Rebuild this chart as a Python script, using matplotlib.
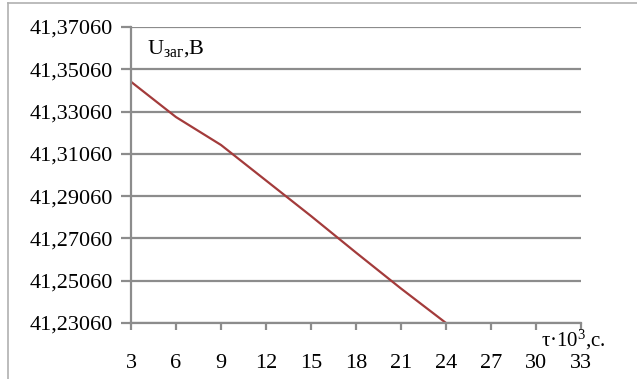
import matplotlib
matplotlib.use("Agg")
import matplotlib.pyplot as plt
from matplotlib.lines import Line2D

plt.rcParams['font.family'] = ['Liberation Serif', 'DejaVu Serif']
plt.rcParams['mathtext.fontset'] = 'custom'
plt.rcParams['mathtext.rm'] = 'Liberation Serif'

# data
time_k = [3, 6, 9, 12, 15, 18, 21, 24]
voltage = [41.3447, 41.3280, 41.3148, 41.2980, 41.2812, 41.2639, 41.2469, 41.2306]
x_ticks = [3, 6, 9, 12, 15, 18, 21, 24, 27, 30, 33]
y_ticks = [41.2306, 41.2506, 41.2706, 41.2906, 41.3106, 41.3306, 41.3506, 41.3706]
y_label = r'$\mathregular{U_{заг}}$,B'
x_label = r'τ·$\mathregular{10^{3}}$,с.'

grid_c = '#8c8c8c'
fig = plt.figure(figsize=(6.37, 3.79), dpi=100)
ax = fig.add_axes([131/637, 1-323/379, (581-131)/637, (323-27)/379])

ax.plot(time_k, voltage, color='#A33B3B', lw=1.6)
ax.set_xlim(x_ticks[0], x_ticks[-1])
ax.set_ylim(y_ticks[0], y_ticks[-1])
ax.set_xticks(x_ticks)
ax.set_yticks(y_ticks)
ax.set_xticklabels([str(v) for v in x_ticks])
ax.set_yticklabels([f"{v:.5f}".replace('.', ',') for v in y_ticks])
ax.grid(axis='y', color=grid_c, lw=1.6)
ax.set_axisbelow(True)
for s in ['top', 'right']:
    ax.spines[s].set_visible(False)
for s in ['left', 'bottom']:
    ax.spines[s].set_color(grid_c)
    ax.spines[s].set_linewidth(1.6)
ax.tick_params(axis='y', length=7, width=1.6, color=grid_c, labelsize=16, pad=6, direction='out')
ax.tick_params(axis='x', length=5, width=1.6, color=grid_c, labelsize=16, pad=17, direction='out')

fig.text(147/637, 1-54/379, y_label, fontsize=16, va='baseline', ha='left')
fig.text(541/637, 1-346/379, x_label, fontsize=15, va='baseline', ha='left')

# outer chart border
fig.add_artist(Line2D([8/637, 8/637], [0, 1-3/379], color='#b0b0b0', lw=1.2, transform=fig.transFigure))
fig.add_artist(Line2D([8/637, 1], [1-3/379, 1-3/379], color='#b0b0b0', lw=1.2, transform=fig.transFigure))

fig.savefig('out.png', dpi=100, facecolor='white')
